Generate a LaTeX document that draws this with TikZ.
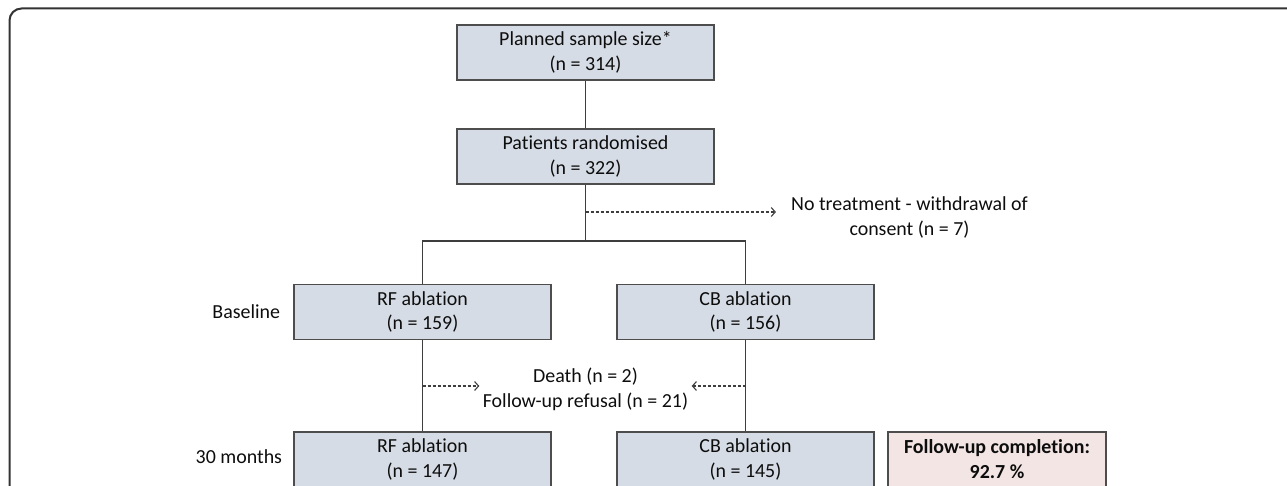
\documentclass[tikz,border=0pt]{standalone}
\usepackage{fontspec}
\setmainfont{Carlito}[Ligatures=NoCommon]
\usetikzlibrary{positioning,arrows.meta}
\definecolor{boxblue}{HTML}{D6DCE5}
\definecolor{boxpink}{HTML}{F4E5E5}
\definecolor{edgegray}{HTML}{4D4D4D}
\definecolor{inkgray}{HTML}{0D0D0D}
\begin{document}
\begin{tikzpicture}[x=1bp,y=-1bp,
	font=\fontsize{20}{25}\selectfont, text=inkgray,
	box/.style={draw=edgegray, line width=1.5bp, fill=boxblue, align=center,
		minimum width=257bp, minimum height=55bp, inner sep=0pt},
	donebox/.style={box, fill=boxpink, minimum width=218bp, font=\fontsize{20}{25}\selectfont\bfseries},
	link/.style={draw=edgegray!80!black, line width=1.1bp},
	dasharrow/.style={link, dash pattern=on 3bp off 2bp, -{Straight Barb[length=4bp,width=9bp]}},
	steplabel/.style={align=right, inner sep=0pt}]
			\useasboundingbox (0,0) rectangle (1287,486);
			\clip (0,0) rectangle (1287,486);
			% outer frame
			\draw[draw=black!80, line width=2bp, rounded corners=12bp] (9.5,520) -- (9.5,8.5) -- (1320,8.5);
			% boxes
			\node[box] (plan) at (585.5,52.5) {Planned sample size*\\(n = 314)};
			\node[box] (rand) at (585.5,156.5) {Patients randomised\\(n = 322)};
			\node[box] (rf0) at (422.5,312) {RF ablation\\(n = 159)};
			\node[box] (cb0) at (745.5,312) {CB ablation\\(n = 156)};
			\node[box] (rf1) at (422.5,459.5) {RF ablation\\(n = 147)};
			\node[box] (cb1) at (745.5,459.5) {CB ablation\\(n = 145)};
			\node[donebox] (done) at (997,459.5) {Follow-up completion:\\92.7 \%};
			\node[steplabel, left=13bp of rf0] (base) {Baseline};
			\node[steplabel, left=11bp of rf1, yshift=3bp] (month) {30 months};
			\node[align=center, inner xsep=15bp] (withdraw) at (909.5,217.5) {No treatment - withdrawal of\\consent (n = 7)};
			\node[align=center] (lost) at (585.5,389) {Death (n = 2)\\Follow-up refusal (n = 21)};
			% connectors
			\coordinate (split) at (585.5,241);
			\coordinate (wd) at (585.5,212);
			\coordinate (lostl) at (422.5,386);
			\coordinate (lostr) at (745.5,386);
			\draw[link] (plan) -- (rand);
			\draw[link] (rand) -- (split);
			\draw[link] (rf0.north) |- (split) -| (cb0.north);
			\draw[link] (rf0) -- (rf1);
			\draw[link] (cb0) -- (cb1);
			\draw[dasharrow] (wd) -- (wd -| withdraw.west);
			\draw[dasharrow] (lostl) -- (lostl -| lost.west);
			\draw[dasharrow] (lostr) -- (lostr -| lost.east);
			\end{tikzpicture}
\end{document}
